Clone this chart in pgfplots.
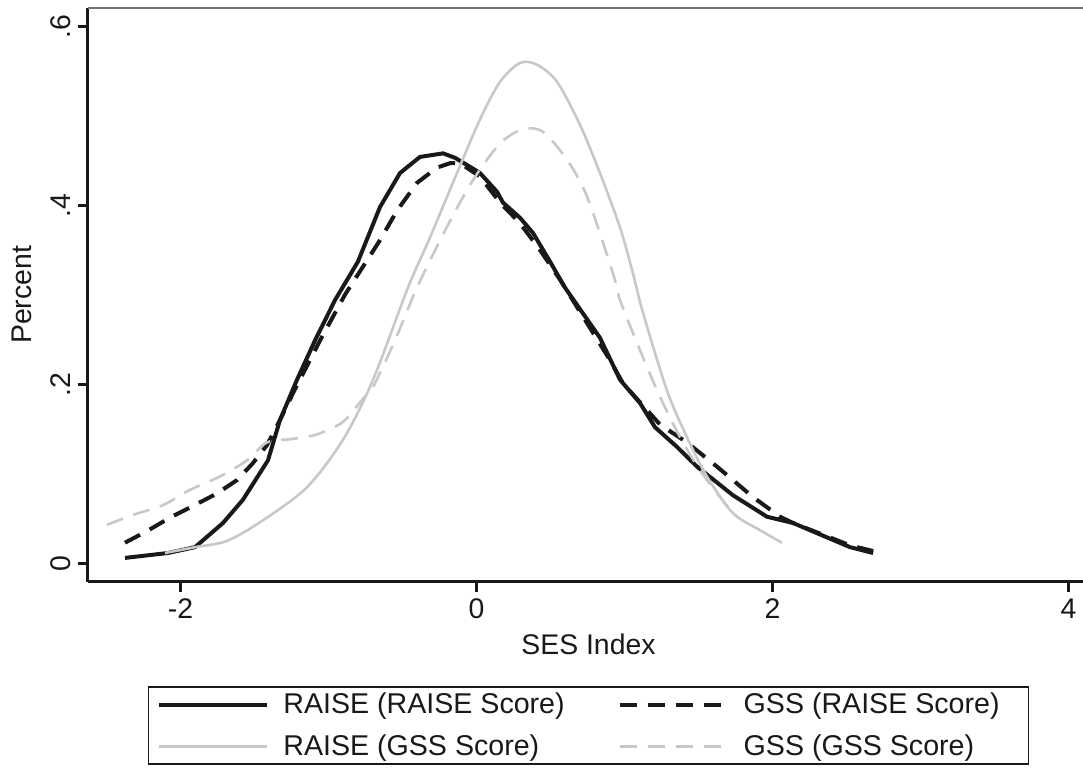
\documentclass[border=0pt]{standalone}
\usepackage{pgfplots}
\pgfplotsset{compat=1.18}
\usepackage{fontspec}
\setmainfont{Liberation Sans}
\definecolor{lgray}{RGB}{200,200,200}
\definecolor{dblack}{RGB}{25,25,25}
\begin{document}
\begin{tikzpicture}
\begin{axis}[
  name=ax,
  scale only axis,
  width=497.5pt, height=287pt,
  xmin=-2.625, xmax=4.098,
  ymin=-0.0209, ymax=0.6204,
  axis lines*=left,
  axis line style={-, line width=1.5pt, dblack},
  tick align=outside,
  major tick length=5pt,
  tick style={line width=1.5pt, dblack},
  xtick={-2,0,2,4}, xticklabels={-2,0,2,4},
  ytick={0,0.2,0.4,0.6}, yticklabels={0,.2,.4,.6},
  ticklabel style={font=\fontsize{14.2}{16}\selectfont, text=dblack},
  yticklabel style={rotate=90, anchor=south},
  xlabel={SES Index}, ylabel={Percent},
  label style={font=\fontsize{14.2}{16}\selectfont, text=dblack},
  ylabel style={at={(axis description cs:-0.0663,0.5)}, anchor=center},
  xlabel style={at={(axis description cs:0.503,-0.108)}, anchor=center},
  legend columns=2,
  legend image code/.code={\path[draw=none,fill=none] (0pt,0pt) -- (60pt,0pt); \draw[#1] (0pt,0pt) -- (54pt,0pt);},
  legend cell align=left,
  legend style={at={(axis description cs:0.503,-0.1812)}, anchor=north,
    draw=dblack, line width=0.8pt, fill=white,
    font=\fontsize{14.3}{16}\selectfont, text=dblack,
    inner xsep=4.5pt, inner ysep=1pt,
    row sep=5pt,
    /tikz/every even column/.append style={column sep=24.5pt}},
]
\addplot[dblack, line width=2pt, line join=round] coordinates {
(-2.375,0.006) (-2.084,0.0115) (-1.902,0.018) (-1.713,0.045) (-1.578,0.071)
(-1.409,0.115) (-1.328,0.160) (-1.213,0.205) (-1.091,0.249) (-0.956,0.294)
(-0.801,0.337) (-0.652,0.398) (-0.517,0.436) (-0.382,0.454) (-0.226,0.458)
(-0.145,0.453) (-0.044,0.443) (0.024,0.436) (0.139,0.415) (0.179,0.403)
(0.294,0.386) (0.382,0.369) (0.497,0.337) (0.598,0.308) (0.834,0.252)
(0.970,0.205) (1.105,0.179) (1.206,0.152) (1.355,0.130) (1.490,0.108)
(1.733,0.076) (1.963,0.052) (2.139,0.045) (2.524,0.018) (2.680,0.0115)
};
\addlegendentry{RAISE (RAISE Score)}
\addplot[dblack, line width=2pt, dash pattern=on 8.5pt off 5.5pt] coordinates {
(-2.375,0.023) (-2.226,0.036) (-2.071,0.051) (-1.916,0.064) (-1.753,0.078)
(-1.618,0.093) (-1.510,0.112) (-1.416,0.132) (-1.328,0.160) (-1.240,0.190)
(-1.057,0.249) (-0.889,0.300) (-0.652,0.361) (-0.537,0.394) (-0.402,0.425)
(-0.267,0.442) (-0.179,0.447) (-0.111,0.447) (0.024,0.432) (0.159,0.403)
(0.294,0.380) (0.429,0.350) (0.564,0.317) (0.733,0.272) (0.902,0.227)
(0.990,0.201) (1.240,0.155) (1.422,0.135) (1.625,0.108) (1.868,0.074)
(2.051,0.052) (2.139,0.045) (2.524,0.020) (2.680,0.0137)
};
\addlegendentry{GSS (RAISE Score)\rule{8pt}{0pt}}
\addplot[lgray, line width=1.3pt, smooth, tension=0.5] coordinates {
(-2.105,0.0115) (-1.902,0.018) (-1.686,0.025) (-1.443,0.048) (-1.145,0.085)
(-0.902,0.138) (-0.699,0.205) (-0.463,0.308) (-0.314,0.364) (-0.132,0.436)
(0.024,0.496) (0.159,0.538) (0.294,0.559) (0.409,0.557) (0.544,0.538)
(0.699,0.490) (0.834,0.436) (0.970,0.375) (1.057,0.324) (1.125,0.280)
(1.287,0.193) (1.422,0.141) (1.557,0.097) (1.733,0.056) (1.916,0.037)
(2.064,0.023)
};
\addlegendentry{RAISE (GSS Score)}
\addplot[lgray, line width=1.3pt, dash pattern=on 8.5pt off 5.5pt, smooth, tension=0.5] coordinates {
(-2.497,0.043) (-2.321,0.054) (-2.118,0.065) (-1.936,0.082) (-1.733,0.097)
(-1.551,0.115) (-1.416,0.135) (-1.240,0.139) (-1.078,0.144) (-0.902,0.158)
(-0.767,0.184) (-0.699,0.197) (-0.551,0.249) (-0.402,0.308) (-0.199,0.376)
(-0.024,0.428) (0.159,0.469) (0.314,0.485) (0.449,0.482) (0.611,0.451)
(0.746,0.410) (0.922,0.324) (0.970,0.294) (1.105,0.238) (1.240,0.186)
(1.375,0.141) (1.510,0.104) (1.645,0.074) (1.760,0.052)
};
\addlegendentry{GSS (GSS Score)}
\draw[black!55, line width=1pt] (rel axis cs:0,1) -- (rel axis cs:1,1);
\end{axis}
\pgfresetboundingbox
\path (ax.south west) ++(-44pt,-93.5pt) rectangle ++(541.5pt,384.5pt);
\end{tikzpicture}
\end{document}
